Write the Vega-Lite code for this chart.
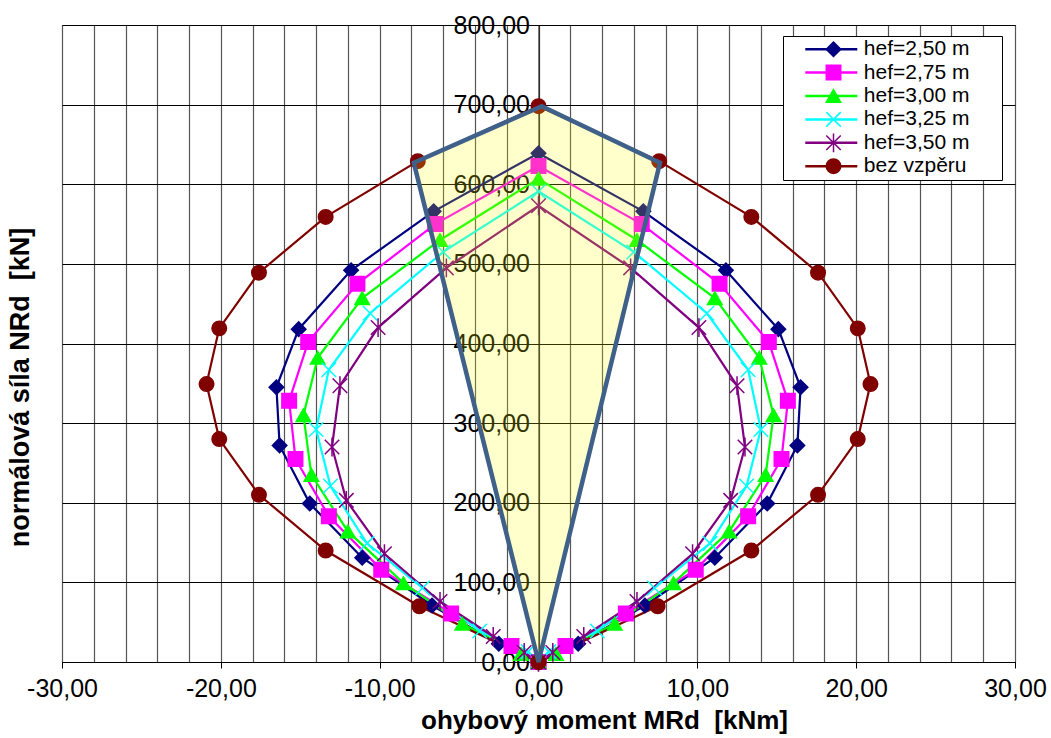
{
  "$schema": "https://vega.github.io/schema/vega-lite/v6.json",
  "width": 953,
  "height": 637,
  "autosize": "none",
  "padding": {"left": 62, "top": 25, "right": 36, "bottom": 76},
  "background": "white",
  "config": {
    "font": "Liberation Sans",
    "view": {"stroke": "black", "strokeWidth": 1},
    "locale": {"number": {"decimal": ",", "thousands": " ", "grouping": [3], "currency": ["", " Kč"], "minus": "-"}},
    "axis": {"labelFont": "Liberation Sans", "labelFontSize": 25, "labelColor": "black", "titleFont": "Liberation Sans", "titleColor": "black", "domainColor": "black", "tickColor": "black", "labelFlush": false, "labelOverlap": false}
  },
  "datasets": {
    "curves": [
      {"s":"hef=2,50 m","o":0,"M":0,"N":0},{"s":"hef=2,50 m","o":1,"M":-2.5,"N":23},{"s":"hef=2,50 m","o":2,"M":-6.7,"N":71},{"s":"hef=2,50 m","o":3,"M":-11.1,"N":131},{"s":"hef=2,50 m","o":4,"M":-14.4,"N":199},{"s":"hef=2,50 m","o":5,"M":-16.3,"N":272},{"s":"hef=2,50 m","o":6,"M":-16.5,"N":345},{"s":"hef=2,50 m","o":7,"M":-15.1,"N":418},{"s":"hef=2,50 m","o":8,"M":-11.8,"N":492},{"s":"hef=2,50 m","o":9,"M":-6.6,"N":566},{"s":"hef=2,50 m","o":10,"M":0,"N":639},{"s":"hef=2,50 m","o":11,"M":6.6,"N":566},{"s":"hef=2,50 m","o":12,"M":11.8,"N":492},{"s":"hef=2,50 m","o":13,"M":15.1,"N":418},{"s":"hef=2,50 m","o":14,"M":16.5,"N":345},{"s":"hef=2,50 m","o":15,"M":16.3,"N":272},{"s":"hef=2,50 m","o":16,"M":14.4,"N":199},{"s":"hef=2,50 m","o":17,"M":11.1,"N":131},{"s":"hef=2,50 m","o":18,"M":6.7,"N":71},{"s":"hef=2,50 m","o":19,"M":2.5,"N":23},{"s":"hef=2,50 m","o":20,"M":0,"N":0},
      {"s":"hef=2,75 m","o":0,"M":0,"N":0},{"s":"hef=2,75 m","o":1,"M":-1.7,"N":20},{"s":"hef=2,75 m","o":2,"M":-5.5,"N":61},{"s":"hef=2,75 m","o":3,"M":-9.9,"N":116},{"s":"hef=2,75 m","o":4,"M":-13.2,"N":183},{"s":"hef=2,75 m","o":5,"M":-15.3,"N":255},{"s":"hef=2,75 m","o":6,"M":-15.7,"N":328},{"s":"hef=2,75 m","o":7,"M":-14.5,"N":402},{"s":"hef=2,75 m","o":8,"M":-11.4,"N":475},{"s":"hef=2,75 m","o":9,"M":-6.5,"N":550},{"s":"hef=2,75 m","o":10,"M":0,"N":623},{"s":"hef=2,75 m","o":11,"M":6.5,"N":550},{"s":"hef=2,75 m","o":12,"M":11.4,"N":475},{"s":"hef=2,75 m","o":13,"M":14.5,"N":402},{"s":"hef=2,75 m","o":14,"M":15.7,"N":328},{"s":"hef=2,75 m","o":15,"M":15.3,"N":255},{"s":"hef=2,75 m","o":16,"M":13.2,"N":183},{"s":"hef=2,75 m","o":17,"M":9.9,"N":116},{"s":"hef=2,75 m","o":18,"M":5.5,"N":61},{"s":"hef=2,75 m","o":19,"M":1.7,"N":20},{"s":"hef=2,75 m","o":20,"M":0,"N":0},
      {"s":"hef=3,00 m","o":0,"M":0,"N":0},{"s":"hef=3,00 m","o":1,"M":-1.1,"N":10},{"s":"hef=3,00 m","o":2,"M":-4.8,"N":48},{"s":"hef=3,00 m","o":3,"M":-8.5,"N":99},{"s":"hef=3,00 m","o":4,"M":-12.0,"N":164},{"s":"hef=3,00 m","o":5,"M":-14.3,"N":235},{"s":"hef=3,00 m","o":6,"M":-14.8,"N":310},{"s":"hef=3,00 m","o":7,"M":-13.9,"N":382},{"s":"hef=3,00 m","o":8,"M":-11.1,"N":457},{"s":"hef=3,00 m","o":9,"M":-6.2,"N":530},{"s":"hef=3,00 m","o":10,"M":0,"N":607},{"s":"hef=3,00 m","o":11,"M":6.2,"N":530},{"s":"hef=3,00 m","o":12,"M":11.1,"N":457},{"s":"hef=3,00 m","o":13,"M":13.9,"N":382},{"s":"hef=3,00 m","o":14,"M":14.8,"N":310},{"s":"hef=3,00 m","o":15,"M":14.3,"N":235},{"s":"hef=3,00 m","o":16,"M":12.0,"N":164},{"s":"hef=3,00 m","o":17,"M":8.5,"N":99},{"s":"hef=3,00 m","o":18,"M":4.8,"N":48},{"s":"hef=3,00 m","o":19,"M":1.1,"N":10},{"s":"hef=3,00 m","o":20,"M":0,"N":0},
      {"s":"hef=3,25 m","o":0,"M":0,"N":0},{"s":"hef=3,25 m","o":1,"M":-0.65,"N":13},{"s":"hef=3,25 m","o":2,"M":-3.7,"N":39},{"s":"hef=3,25 m","o":3,"M":-7.3,"N":93},{"s":"hef=3,25 m","o":4,"M":-10.8,"N":149},{"s":"hef=3,25 m","o":5,"M":-13.1,"N":221},{"s":"hef=3,25 m","o":6,"M":-14.0,"N":292},{"s":"hef=3,25 m","o":7,"M":-13.2,"N":367},{"s":"hef=3,25 m","o":8,"M":-10.6,"N":438},{"s":"hef=3,25 m","o":9,"M":-6.0,"N":515},{"s":"hef=3,25 m","o":10,"M":0,"N":591},{"s":"hef=3,25 m","o":11,"M":6.0,"N":515},{"s":"hef=3,25 m","o":12,"M":10.6,"N":438},{"s":"hef=3,25 m","o":13,"M":13.2,"N":367},{"s":"hef=3,25 m","o":14,"M":14.0,"N":292},{"s":"hef=3,25 m","o":15,"M":13.1,"N":221},{"s":"hef=3,25 m","o":16,"M":10.8,"N":149},{"s":"hef=3,25 m","o":17,"M":7.3,"N":93},{"s":"hef=3,25 m","o":18,"M":3.7,"N":39},{"s":"hef=3,25 m","o":19,"M":0.65,"N":13},{"s":"hef=3,25 m","o":20,"M":0,"N":0},
      {"s":"hef=3,50 m","o":0,"M":0,"N":0},{"s":"hef=3,50 m","o":1,"M":-0.9,"N":12},{"s":"hef=3,50 m","o":2,"M":-2.85,"N":32},{"s":"hef=3,50 m","o":3,"M":-6.2,"N":76},{"s":"hef=3,50 m","o":4,"M":-9.7,"N":136},{"s":"hef=3,50 m","o":5,"M":-12.1,"N":203},{"s":"hef=3,50 m","o":6,"M":-13.0,"N":270},{"s":"hef=3,50 m","o":7,"M":-12.5,"N":347},{"s":"hef=3,50 m","o":8,"M":-10.1,"N":420},{"s":"hef=3,50 m","o":9,"M":-5.8,"N":495},{"s":"hef=3,50 m","o":10,"M":0,"N":573},{"s":"hef=3,50 m","o":11,"M":5.8,"N":495},{"s":"hef=3,50 m","o":12,"M":10.1,"N":420},{"s":"hef=3,50 m","o":13,"M":12.5,"N":347},{"s":"hef=3,50 m","o":14,"M":13.0,"N":270},{"s":"hef=3,50 m","o":15,"M":12.1,"N":203},{"s":"hef=3,50 m","o":16,"M":9.7,"N":136},{"s":"hef=3,50 m","o":17,"M":6.2,"N":76},{"s":"hef=3,50 m","o":18,"M":2.85,"N":32},{"s":"hef=3,50 m","o":19,"M":0.9,"N":12},{"s":"hef=3,50 m","o":20,"M":0,"N":0},
      {"s":"bez vzpěru","o":0,"M":0,"N":0},{"s":"bez vzpěru","o":1,"M":-7.5,"N":70},{"s":"bez vzpěru","o":2,"M":-13.4,"N":140},{"s":"bez vzpěru","o":3,"M":-17.6,"N":210},{"s":"bez vzpěru","o":4,"M":-20.1,"N":280},{"s":"bez vzpěru","o":5,"M":-20.9,"N":349},{"s":"bez vzpěru","o":6,"M":-20.1,"N":419},{"s":"bez vzpěru","o":7,"M":-17.6,"N":489},{"s":"bez vzpěru","o":8,"M":-13.4,"N":559},{"s":"bez vzpěru","o":9,"M":-7.6,"N":629},{"s":"bez vzpěru","o":10,"M":0,"N":698},{"s":"bez vzpěru","o":11,"M":7.6,"N":629},{"s":"bez vzpěru","o":12,"M":13.4,"N":559},{"s":"bez vzpěru","o":13,"M":17.6,"N":489},{"s":"bez vzpěru","o":14,"M":20.1,"N":419},{"s":"bez vzpěru","o":15,"M":20.9,"N":349},{"s":"bez vzpěru","o":16,"M":20.1,"N":280},{"s":"bez vzpěru","o":17,"M":17.6,"N":210},{"s":"bez vzpěru","o":18,"M":13.4,"N":140},{"s":"bez vzpěru","o":19,"M":7.5,"N":70},{"s":"bez vzpěru","o":20,"M":0,"N":0}
    ],
    "poly": [
      {"N": 0, "L": 0, "R": 0},
      {"N": 627, "L": -7.85, "R": 7.65},
      {"N": 698, "L": 0.2, "R": 0.2}
    ]
  },
  "resolve": {"axis": {"x": "independent", "y": "independent"}},
  "layer": [
    {
      "data": {"name": "curves"},
      "mark": {"type": "line", "strokeWidth": 2.2},
      "encoding": {
        "x": {"field": "M", "type": "quantitative", "scale": {"domain": [-30, 30], "nice": false, "zero": false},
          "axis": {"orient": "bottom", "values": [-30, -20, -10, 0, 10, 20, 30], "format": ".2f", "grid": false, "tickSize": 6, "labelPadding": 8,
            "title": "ohybový moment MRd\u00a0 [kNm]", "titleFontSize": 26, "titleFontWeight": "bold", "titleX": 542, "titleY": 66, "titleAlign": "center", "titleBaseline": "alphabetic"}},
        "y": {"field": "N", "type": "quantitative", "scale": {"domain": [0, 800], "nice": false},
          "axis": {"orient": "left", "values": [0, 100, 200, 300, 400, 500, 600, 700, 800], "format": ".2f", "grid": false, "offset": -476.5, "tickSize": 6, "labelPadding": 3,
            "title": "normálová síla NRd\u00a0 [kN]", "titleFontSize": 27, "titleFontWeight": "bold", "titleAngle": -90, "titleX": -518.5, "titleY": 362, "titleAlign": "center", "titleBaseline": "middle"}},
        "order": {"field": "o", "type": "quantitative"},
        "color": {"field": "s", "type": "nominal",
          "scale": {"domain": ["hef=2,50 m", "hef=2,75 m", "hef=3,00 m", "hef=3,25 m", "hef=3,50 m", "bez vzpěru"],
                    "range": ["#000080", "#FF00FF", "#00FF00", "#00FFFF", "#800080", "#800000"]},
          "legend": {"orient": "none", "legendX": 721, "legendY": 11, "title": null, "symbolType": "stroke", "symbolSize": 2704, "symbolStrokeWidth": 2.5,
            "labelFont": "Liberation Sans", "labelFontSize": 21, "labelColor": "black", "labelOffset": 5, "clipHeight": 21.4, "rowPadding": 0.4, "padding": 2.5, "symbolOffset": 18.3,
            "strokeColor": "black", "fillColor": "white", "labelExpr": "datum.label + '\u2800\u2800'"}}
      }
    },
    {
      "data": {"name": "curves"},
      "mark": {"type": "point", "filled": true, "size": 210, "strokeWidth": 1.5, "opacity": 1},
      "encoding": {
        "x": {"field": "M", "type": "quantitative", "scale": {"domain": [-30, 30], "nice": false, "zero": false},
          "axis": {"orient": "bottom", "values": [-30,-28,-26,-24,-22,-20,-18,-16,-14,-12,-10,-8,-6,-4,-2,0,2,4,6,8,10,12,14,16,18,20,22,24,26,28,30],
            "grid": true, "gridColor": "#555555", "gridWidth": 1.2, "labels": false, "ticks": false, "domain": false, "title": null}},
        "y": {"field": "N", "type": "quantitative", "scale": {"domain": [0, 800], "nice": false},
          "axis": {"orient": "left", "values": [0, 100, 200, 300, 400, 500, 600, 700, 800], "grid": true, "gridColor": "black", "gridWidth": 1, "labels": false, "ticks": false, "domain": false, "title": null}},
        "shape": {"field": "s", "type": "nominal",
          "scale": {"domain": ["hef=2,50 m", "hef=2,75 m", "hef=3,00 m", "hef=3,25 m", "hef=3,50 m", "bez vzpěru", "~"],
                    "range": ["diamond", "square", "triangle-up", "M-1,-1L1,1M-1,1L1,-1", "M-1,-1L1,1M-1,1L1,-1M0,-1.3L0,1.3", "circle", "circle"]},
          "legend": {"orient": "none", "legendX": 721, "legendY": 11, "title": null, "values": ["hef=2,50 m", "hef=2,75 m", "hef=3,00 m", "hef=3,25 m", "hef=3,50 m", "bez vzpěru"],
            "labelExpr": "''", "labelFontSize": 21, "labelOffset": 5, "clipHeight": 21.4, "rowPadding": 0.4, "padding": 2.5, "symbolOffset": 37.5, "symbolSize": 210, "symbolStrokeWidth": 1.5}},
        "fill": {"field": "s", "type": "nominal",
          "scale": {"domain": ["hef=2,50 m", "hef=2,75 m", "hef=3,00 m", "hef=3,25 m", "hef=3,50 m", "bez vzpěru", "~"],
                    "range": ["#000080", "#FF00FF", "#00FF00", "#00FFFF", "#800080", "#800000", "#000000"]},
          "legend": {"orient": "none", "legendX": 721, "legendY": 11, "title": null, "values": ["hef=2,50 m", "hef=2,75 m", "hef=3,00 m", "hef=3,25 m", "hef=3,50 m", "bez vzpěru"],
            "labelExpr": "''", "labelFontSize": 21, "labelOffset": 5, "clipHeight": 21.4, "rowPadding": 0.4, "padding": 2.5, "symbolOffset": 37.5, "symbolSize": 210, "symbolStrokeWidth": 1.5}},
        "stroke": {"field": "s", "type": "nominal",
          "scale": {"domain": ["hef=2,50 m", "hef=2,75 m", "hef=3,00 m", "hef=3,25 m", "hef=3,50 m", "bez vzpěru", "~"],
                    "range": ["#000080", "#FF00FF", "#00FF00", "#00FFFF", "#800080", "#800000", "#000000"]},
          "legend": {"orient": "none", "legendX": 721, "legendY": 11, "title": null, "values": ["hef=2,50 m", "hef=2,75 m", "hef=3,00 m", "hef=3,25 m", "hef=3,50 m", "bez vzpěru"],
            "labelExpr": "''", "labelFontSize": 21, "labelOffset": 5, "clipHeight": 21.4, "rowPadding": 0.4, "padding": 2.5, "symbolOffset": 37.5, "symbolSize": 210, "symbolStrokeWidth": 1.5}}
      }
    },
    {
      "data": {"name": "poly"},
      "mark": {"type": "area", "orient": "horizontal", "fill": "#FFFF00", "fillOpacity": 0.2, "stroke": "#3E6089", "strokeWidth": 4.5, "strokeOpacity": 1, "strokeJoin": "miter"},
      "encoding": {
        "y": {"field": "N", "type": "quantitative", "scale": {"domain": [0, 800], "nice": false}, "axis": null},
        "x": {"field": "L", "type": "quantitative", "scale": {"domain": [-30, 30], "nice": false, "zero": false}, "axis": null},
        "x2": {"field": "R"}
      }
    }
  ]
}
